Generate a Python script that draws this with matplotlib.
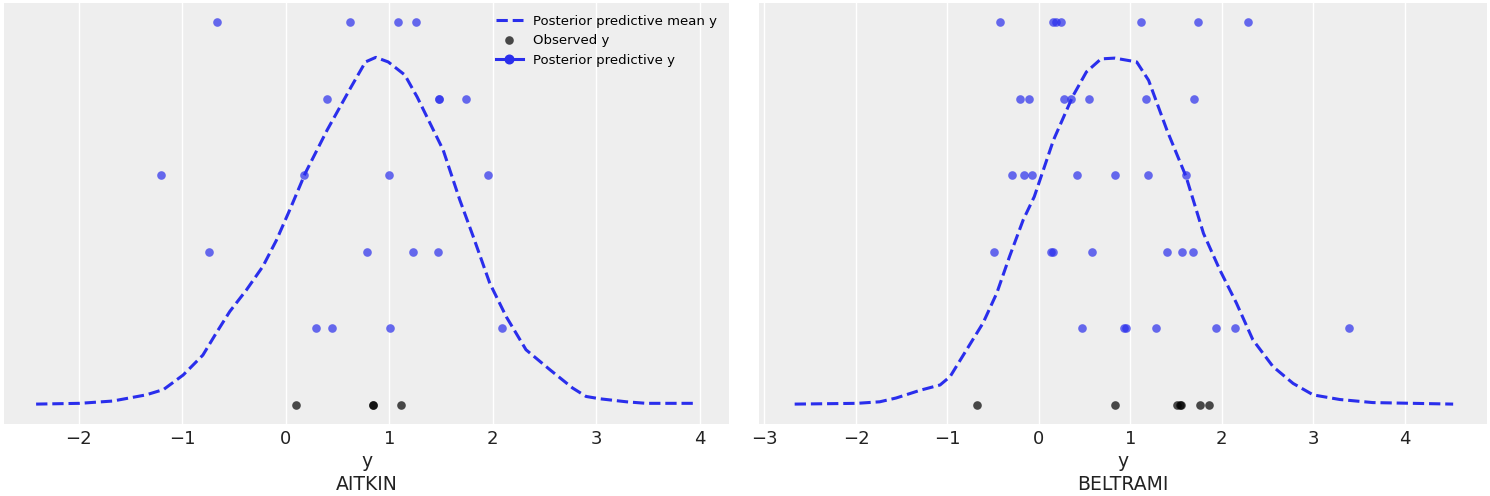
import matplotlib
matplotlib.use("Agg")
from matplotlib import pyplot as plt
from matplotlib.lines import Line2D
import numpy as np

# ### data ###
counties = ["AITKIN", "BELTRAMI"]

aitkin_observed = [0.10, 0.84, 0.84, 1.11]
aitkin_draws = [
    [0.29, 0.45, 1.01, 2.09],
    [-0.74, 0.78, 1.23, 1.47],
    [-1.20, 0.18, 1.00, 1.95],
    [0.40, 1.48, 1.48, 1.74],
    [-0.66, 0.62, 1.08, 1.26],
]
aitkin_mean_x = [-2.41, -1.99, -1.67, -1.35, -1.18, -0.99, -0.80, -0.67, -0.54, -0.38,
                 -0.22, -0.09, 0.04, 0.19, 0.40, 0.63, 0.77, 0.87, 0.99, 1.15,
                 1.27, 1.52, 1.68, 1.81, 1.97, 2.13, 2.32, 2.55, 2.77, 2.90,
                 3.03, 3.29, 3.48, 3.96]
aitkin_mean_y = [0.01, 0.02, 0.05, 0.13, 0.20, 0.39, 0.65, 0.94, 1.22, 1.50,
                 1.81, 2.15, 2.55, 3.03, 3.59, 4.15, 4.48, 4.54, 4.48, 4.31,
                 4.02, 3.33, 2.68, 2.20, 1.59, 1.15, 0.72, 0.46, 0.22, 0.11,
                 0.08, 0.04, 0.02, 0.02]

beltrami_observed = [-0.68, 0.83, 1.51, 1.54, 1.55, 1.76, 1.86]
beltrami_draws = [
    [0.47, 0.93, 0.95, 1.28, 1.94, 2.14, 3.39],
    [-0.49, 0.13, 0.16, 0.58, 1.40, 1.56, 1.68],
    [-0.29, -0.16, -0.08, 0.42, 0.83, 1.19, 1.61],
    [-0.21, -0.11, 0.28, 0.35, 0.55, 1.17, 1.70],
    [-0.42, 0.16, 0.19, 0.24, 1.12, 1.74, 2.29],
]
beltrami_mean_x = [-2.67, -1.99, -1.74, -1.56, -1.30, -1.08, -0.97, -0.79, -0.61, -0.46,
                   -0.32, -0.17, -0.05, 0.16, 0.37, 0.52, 0.68, 0.83, 1.07, 1.20,
                   1.40, 1.61, 1.80, 1.98, 2.16, 2.34, 2.56, 2.78, 3.00, 3.29,
                   3.65, 4.53]
beltrami_mean_y = [0.01, 0.02, 0.04, 0.09, 0.19, 0.26, 0.37, 0.72, 1.07, 1.46,
                   1.94, 2.42, 2.72, 3.46, 4.03, 4.35, 4.52, 4.53, 4.48, 4.24,
                   3.59, 2.98, 2.24, 1.76, 1.33, 0.85, 0.50, 0.28, 0.13, 0.07,
                   0.03, 0.01]

blue = "#2a2eec"
bg = "#eeeeee"


def panel(ax, name, observed, draws, mean_x, mean_y, xlim, legend=False):
    ax.set_facecolor(bg)
    ax.plot(mean_x, mean_y, ls="--", color=blue, lw=2.2, zorder=3)
    for i, d in enumerate(draws):
        ax.plot(d, np.full(len(d), i + 1), "o", color=blue, alpha=0.7, ms=6.2, mew=0, zorder=4)
    ax.plot(observed, np.zeros(len(observed)), "o", color="k", alpha=0.7, ms=6.2, mew=0, zorder=4)

    ax.set_xlim(*xlim)
    ax.set_ylim(-0.25, 5.25)
    ax.set_yticks([])
    ax.grid(axis="x", color="white", lw=1)
    ax.set_axisbelow(True)
    for s in ax.spines.values():
        s.set_visible(False)
    ax.tick_params(axis="x", length=0, labelsize=13, colors="#222222", pad=4)
    ax.set_xlabel("y\n" + name, fontsize=13.5, color="#222222", labelpad=3, linespacing=1.3)

    if legend:
        handles = [
            Line2D([], [], ls="--", color=blue, lw=2.2),
            Line2D([], [], ls="", marker="o", color="k", alpha=0.7, ms=6.2, mew=0),
            Line2D([], [], ls="-", marker="o", color=blue, lw=2.2, ms=6.2),
        ]
        labels = ["Posterior predictive mean y", "Observed y", "Posterior predictive y"]
        ax.legend(handles, labels, loc="upper right", fontsize=9.5, frameon=False)


def main():
    fig = plt.figure(figsize=(14.9, 4.96), dpi=100)
    ax1 = fig.add_axes([4 / 1490, 72 / 496, 725 / 1490, 421 / 496])
    ax2 = fig.add_axes([759 / 1490, 72 / 496, 728 / 1490, 421 / 496])

    panel(ax1, counties[0], aitkin_observed, aitkin_draws, aitkin_mean_x, aitkin_mean_y,
          (-2.72, 4.28), legend=True)
    panel(ax2, counties[1], beltrami_observed, beltrami_draws, beltrami_mean_x, beltrami_mean_y,
          (-3.06, 4.90))

    fig.savefig("out.png", dpi=100)


if __name__ == "__main__":
    main()
